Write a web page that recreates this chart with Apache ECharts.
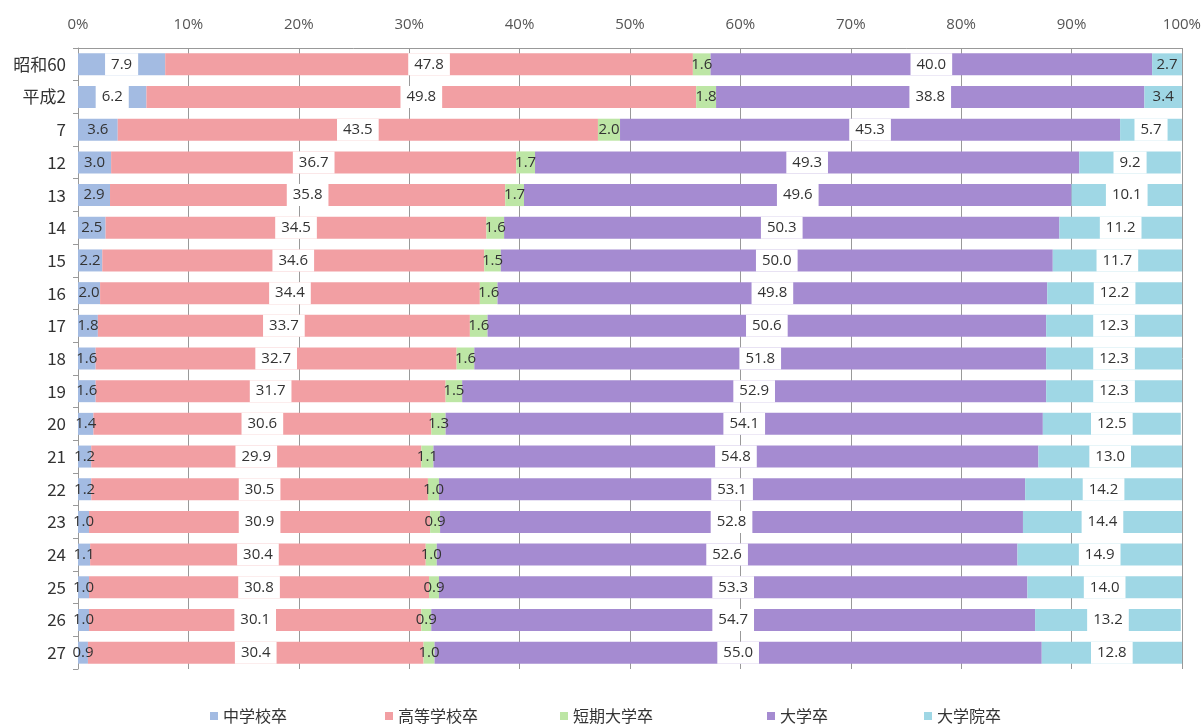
<!DOCTYPE html>
<html><head><meta charset="utf-8">
<script src="https://cdn.jsdelivr.net/npm/echarts@6/dist/echarts.min.js"></script>
<style>html,body{margin:0;padding:0;background:#fff}#c{width:1204px;height:724px}</style>
</head><body><div id="c"></div>
<script>
const categories = ['昭和60','平成2','7','12','13','14','15','16','17','18','19','20','21','22','23','24','25','26','27'];
const seriesNames = ['中学校卒','高等学校卒','短期大学卒','大学卒','大学院卒'];
const juniorHigh = [7.9,6.2,3.6,3.0,2.9,2.5,2.2,2.0,1.8,1.6,1.6,1.4,1.2,1.2,1.0,1.1,1.0,1.0,0.9];
const highSchool = [47.8,49.8,43.5,36.7,35.8,34.5,34.6,34.4,33.7,32.7,31.7,30.6,29.9,30.5,30.9,30.4,30.8,30.1,30.4];
const juniorCollege = [1.6,1.8,2.0,1.7,1.7,1.6,1.5,1.6,1.6,1.6,1.5,1.3,1.1,1.0,0.9,1.0,0.9,0.9,1.0];
const university = [40.0,38.8,45.3,49.3,49.6,50.3,50.0,49.8,50.6,51.8,52.9,54.1,54.8,53.1,52.8,52.6,53.3,54.7,55.0];
const graduate = [2.7,3.4,5.7,9.2,10.1,11.2,11.7,12.2,12.3,12.3,12.3,12.5,13.0,14.2,14.4,14.9,14.0,13.2,12.8];
const tickLabels = ['0%','10%','20%','30%','40%','50%','60%','70%','80%','90%','100%'];

const colors = ['#a3bbe2','#f29fa3','#bde6a5','#a58bd1','#9fd7e5'];
const allData = [juniorHigh, highSchool, juniorCollege, university, graduate];
const legendLeft = [205, 380, 555, 762, 919];

const chart = echarts.init(document.getElementById('c'));
const series = allData.map((arr, i) => ({
  name: seriesNames[i],
  type: 'bar',
  stack: 'total',
  barWidth: 22,
  itemStyle: { color: colors[i] },
  label: {
    show: true, position: 'inside', color: '#333', fontSize: 15,
    fontFamily: 'Open Sans, Noto Sans CJK JP, sans-serif',
    formatter: p => p.value.toFixed(1)
  },
  data: arr.map(v => v >= 5 ? {
    value: v,
    label: { backgroundColor: '#fff', padding: [3, 6], lineHeight: 16 }
  } : { value: v })
}));

chart.setOption({
  animation: false,
  color: colors,
  grid: { left: 78, right: 19, top: 48, bottom: 55 },
  legend: seriesNames.map((n, i) => ({
    data: [n], left: legendLeft[i], top: 703, icon: 'rect',
    itemWidth: 8, itemHeight: 8, itemGap: 5,
    textStyle: { fontSize: 16, color: '#333', fontFamily: 'Noto Sans CJK JP' }
  })),
  xAxis: {
    type: 'value', position: 'top', min: 0, max: 100, interval: 10,
    axisLabel: { formatter: (v) => tickLabels[Math.round(v / 10)], color: '#555', fontSize: 15, margin: 16, fontFamily: 'Open Sans, sans-serif' },
    axisLine: { show: true, lineStyle: { color: '#999' } },
    axisTick: { show: true, length: 4, inside: true, lineStyle: { color: '#999' } },
    splitLine: { show: true, lineStyle: { color: '#999', width: 1 } }
  },
  yAxis: {
    type: 'category', inverse: true, data: categories,
    axisLine: { show: true, lineStyle: { color: '#999' } },
    axisTick: { show: true, length: 5, lineStyle: { color: '#999' } },
    axisLabel: { color: '#333', fontSize: 17, margin: 12, fontFamily: 'Noto Sans CJK JP' }
  },
  series: series
});
</script></body></html>
